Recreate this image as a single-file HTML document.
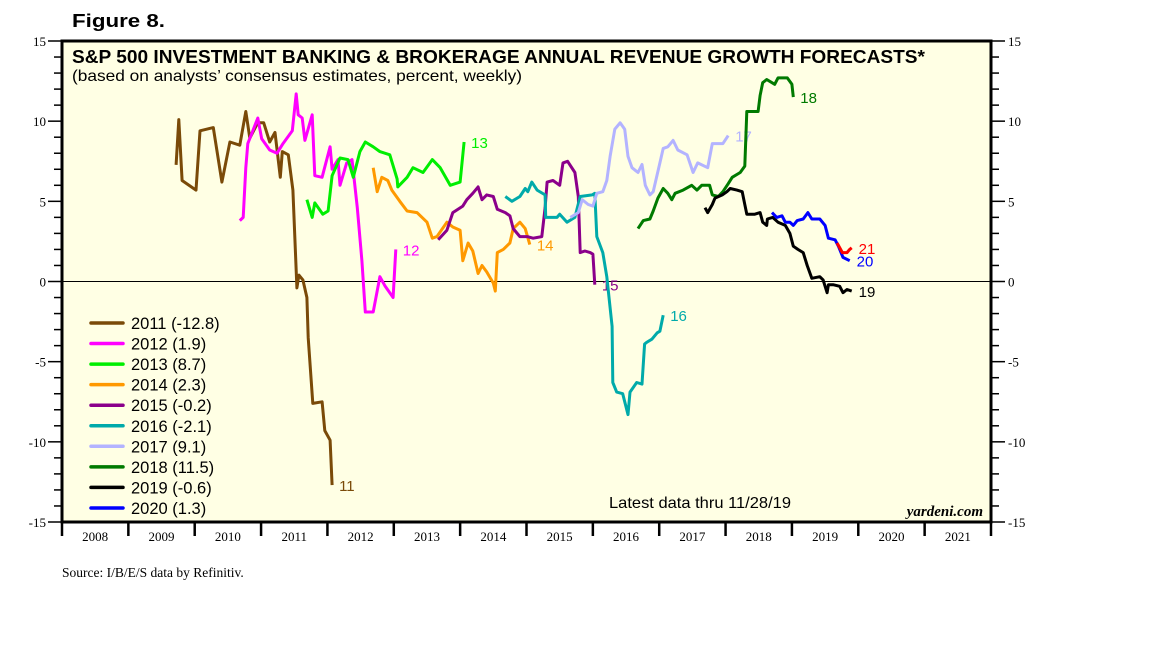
<!DOCTYPE html>
<html><head><meta charset="utf-8">
<style>
html,body{margin:0;padding:0;background:#fff;width:1152px;height:648px;overflow:hidden}
svg{display:block}
text{font-family:"Liberation Sans",Arial,sans-serif}
.serif{font-family:"Liberation Serif","Times New Roman",serif}
</style></head>
<body>
<svg id="chart" width="1152" height="648" viewBox="0 0 1152 648">
<text x="72" y="27" font-size="18" font-weight="bold" textLength="93" lengthAdjust="spacingAndGlyphs">Figure 8.</text>
<rect x="62" y="41" width="929" height="481" fill="#ffffe4"/>
<g id="axes"></g>
<g id="series"></g>
<rect x="62" y="41" width="929" height="481" fill="none" stroke="#000" stroke-width="3"/>
<text x="72" y="63" font-size="18" font-weight="bold" textLength="853" lengthAdjust="spacingAndGlyphs">S&amp;P 500 INVESTMENT BANKING &amp; BROKERAGE ANNUAL REVENUE GROWTH FORECASTS*</text>
<text x="72" y="81" font-size="16" textLength="450" lengthAdjust="spacingAndGlyphs">(based on analysts’ consensus estimates, percent, weekly)</text>
<g id="legend"></g>
<text x="609" y="508" font-size="16" textLength="182" lengthAdjust="spacingAndGlyphs">Latest data thru  11/28/19</text>
<text x="983" y="516" font-size="15" font-weight="bold" font-style="italic" text-anchor="end" class="serif">yardeni.com</text>
<text x="62" y="577" font-size="13.5" class="serif">Source: I/B/E/S data by Refinitiv.</text>
</svg>
<script>
const yearTicks=[2008,2009,2010,2011,2012,2013,2014,2015,2016,2017,2018,2019,2020,2021];
const yTickLabels=[15,10,5,0,-5,-10,-15];
const seriesNames=["2011","2012","2013","2014","2015","2016","2017","2018","2019","2020","2021"];
const seriesLegend=["2011 (-12.8)","2012 (1.9)","2013 (8.7)","2014 (2.3)","2015 (-0.2)","2016 (-2.1)","2017 (9.1)","2018 (11.5)","2019 (-0.6)","2020 (1.3)",null];
const seriesEndLabels=["11","12","13","14","15","16","17","18","19","20","21"];
const seriesColors=["#7a4a08","#ff00ff","#00ee00","#ff9900","#8b008b","#00aaaa","#b3b3ff","#007a00","#000000","#0000ff","#ff0000"];
const s2011=[[2009.72,7.27],[2009.76,10.1],[2009.81,6.3],[2010.02,5.7],[2010.08,9.4],[2010.28,9.6],[2010.41,6.2],[2010.53,8.7],[2010.68,8.5],[2010.77,10.6],[2010.83,8.95],[2010.95,9.9],[2011.04,9.9],[2011.13,8.7],[2011.21,9.3],[2011.29,6.5],[2011.32,8.1],[2011.41,7.9],[2011.48,5.7],[2011.54,-0.4],[2011.57,0.4],[2011.63,0.1],[2011.69,-1.0],[2011.71,-3.5],[2011.78,-7.6],[2011.92,-7.5],[2011.96,-9.3],[2012.04,-9.9],[2012.07,-12.7]];
const s2012=[[2010.68,3.8],[2010.73,4.0],[2010.77,7.1],[2010.80,8.6],[2010.95,10.2],[2011.01,8.9],[2011.13,8.2],[2011.24,8.0],[2011.33,8.6],[2011.47,9.4],[2011.53,11.7],[2011.56,10.4],[2011.62,10.2],[2011.66,8.8],[2011.77,10.4],[2011.81,6.6],[2011.92,6.5],[2012.04,8.4],[2012.07,7.0],[2012.16,7.6],[2012.19,6.0],[2012.29,7.4],[2012.37,7.6],[2012.45,4.6],[2012.52,1.3],[2012.57,-1.9],[2012.69,-1.9],[2012.79,0.3],[2012.87,-0.3],[2012.99,-1.0],[2013.03,2.0]];
const s2013=[[2011.69,5.1],[2011.77,4.0],[2011.81,4.9],[2011.93,4.2],[2012.01,4.4],[2012.07,6.6],[2012.19,7.7],[2012.31,7.6],[2012.39,6.5],[2012.49,8.1],[2012.57,8.7],[2012.69,8.4],[2012.79,8.1],[2012.94,7.9],[2013.05,6.4],[2013.06,5.9],[2013.20,6.5],[2013.29,7.1],[2013.44,6.8],[2013.58,7.6],[2013.70,7.1],[2013.85,6.0],[2014.00,6.2],[2014.06,8.7]];
const s2014=[[2012.69,7.1],[2012.75,5.6],[2012.82,6.5],[2012.91,6.3],[2012.97,5.7],[2013.09,5.0],[2013.20,4.4],[2013.35,4.3],[2013.50,3.7],[2013.58,2.7],[2013.65,2.8],[2013.80,3.7],[2013.89,3.4],[2014.00,3.2],[2014.04,1.3],[2014.12,2.4],[2014.19,1.9],[2014.27,0.5],[2014.33,1.0],[2014.40,0.6],[2014.50,-0.1],[2014.53,-0.6],[2014.56,1.8],[2014.65,2.0],[2014.75,2.4],[2014.80,3.3],[2014.90,3.7],[2014.98,3.3],[2015.05,2.3]];
const s2015=[[2013.67,2.6],[2013.80,3.2],[2013.89,4.3],[2014.04,4.7],[2014.10,5.1],[2014.19,5.5],[2014.27,5.9],[2014.33,5.1],[2014.40,5.4],[2014.50,5.3],[2014.56,4.5],[2014.68,4.3],[2014.75,4.1],[2014.80,3.3],[2014.90,2.8],[2015.01,2.8],[2015.10,2.7],[2015.23,2.8],[2015.28,4.6],[2015.31,6.2],[2015.40,6.3],[2015.50,6.0],[2015.55,7.4],[2015.62,7.5],[2015.73,6.8],[2015.78,5.3],[2015.81,1.8],[2015.88,1.9],[2015.96,1.8],[2016.00,1.7],[2016.03,-0.2]];
const s2016=[[2014.68,5.3],[2014.78,5.0],[2014.90,5.3],[2014.98,5.8],[2015.02,5.6],[2015.08,6.2],[2015.16,5.7],[2015.28,5.4],[2015.29,4.0],[2015.46,4.0],[2015.50,4.2],[2015.61,3.7],[2015.73,4.0],[2015.81,5.3],[2015.99,5.4],[2016.03,5.5],[2016.06,2.8],[2016.15,1.8],[2016.21,0.3],[2016.29,-2.8],[2016.30,-6.3],[2016.36,-6.9],[2016.45,-7.0],[2016.53,-8.3],[2016.56,-6.9],[2016.66,-6.3],[2016.74,-6.4],[2016.78,-3.9],[2016.81,-3.8],[2016.89,-3.6],[2016.97,-3.2],[2017.01,-3.1],[2017.06,-2.1]];
const s2017=[[2015.66,4.0],[2015.78,4.3],[2015.84,5.1],[2015.93,4.8],[2016.00,4.7],[2016.06,5.5],[2016.15,5.6],[2016.21,6.3],[2016.26,7.8],[2016.33,9.5],[2016.41,9.9],[2016.48,9.5],[2016.53,7.8],[2016.59,7.1],[2016.68,6.8],[2016.74,7.3],[2016.79,6.0],[2016.86,5.4],[2016.91,5.6],[2017.01,7.4],[2017.06,8.3],[2017.13,8.4],[2017.21,8.8],[2017.28,8.2],[2017.42,7.9],[2017.51,6.8],[2017.58,7.4],[2017.73,7.1],[2017.80,8.6],[2017.87,8.6],[2017.96,8.6],[2018.04,9.1]];
const s2018=[[2016.68,3.3],[2016.76,3.8],[2016.86,3.9],[2016.91,4.4],[2016.98,5.2],[2017.06,5.8],[2017.13,5.5],[2017.19,5.1],[2017.24,5.5],[2017.36,5.7],[2017.49,6.0],[2017.57,5.7],[2017.64,6.0],[2017.76,6.0],[2017.80,5.4],[2017.89,5.3],[2017.96,5.6],[2018.04,6.1],[2018.10,6.5],[2018.22,6.8],[2018.29,7.2],[2018.32,10.6],[2018.41,10.6],[2018.49,10.6],[2018.52,11.6],[2018.56,12.4],[2018.62,12.6],[2018.74,12.3],[2018.79,12.7],[2018.93,12.7],[2019.00,12.3],[2019.02,11.5]];
const s2019=[[2017.69,4.6],[2017.73,4.3],[2017.80,4.8],[2017.84,5.2],[2017.95,5.4],[2018.02,5.6],[2018.07,5.8],[2018.17,5.7],[2018.25,5.6],[2018.29,4.8],[2018.32,4.2],[2018.44,4.2],[2018.52,4.3],[2018.56,3.7],[2018.62,3.5],[2018.63,3.9],[2018.71,4.0],[2018.79,3.7],[2018.90,3.5],[2018.97,3.0],[2019.02,2.2],[2019.09,2.0],[2019.17,1.8],[2019.23,1.0],[2019.30,0.2],[2019.42,0.3],[2019.47,0.1],[2019.53,-0.7],[2019.55,-0.2],[2019.62,-0.2],[2019.72,-0.3],[2019.77,-0.7],[2019.83,-0.5],[2019.90,-0.6]];
const s2020=[[2018.70,4.3],[2018.77,4.0],[2018.85,4.1],[2018.90,3.7],[2018.97,3.7],[2019.02,3.5],[2019.08,3.8],[2019.17,3.9],[2019.24,4.3],[2019.30,3.9],[2019.42,3.9],[2019.50,3.5],[2019.55,2.7],[2019.65,2.6],[2019.70,2.2],[2019.77,1.5],[2019.87,1.3]];
const s2021=[[2019.68,2.4],[2019.76,1.8],[2019.83,1.8],[2019.87,2.0],[2019.90,2.1]];
const allSeries=[s2011,s2012,s2013,s2014,s2015,s2016,s2017,s2018,s2019,s2020,s2021];

const NS="http://www.w3.org/2000/svg";
const L=62,R=991,T=41,B=522,X0=2008,X1=2022,YMIN=-15,YMAX=15;
function xs(t){return L+(t-X0)/(X1-X0)*(R-L);}
function ys(v){return B-(v-YMIN)/(YMAX-YMIN)*(B-T);}
function mk(tag,attrs,parent){const e=document.createElementNS(NS,tag);for(const k in attrs)e.setAttribute(k,attrs[k]);parent.appendChild(e);return e;}
const axes=document.getElementById('axes');
for(let v=YMIN;v<=YMAX;v++){
  const y=ys(v),major=v%5===0;
  const tl=mk('line',{x1:major?48:54,x2:L,y1:y,y2:y,stroke:'#000','stroke-width':1.5},axes);
  
  
  const tr=mk('line',{x1:R,x2:major?1005:999,y1:y,y2:y,stroke:'#000','stroke-width':1.5},axes);
  
  
}
yTickLabels.forEach(v=>{
  const a=mk('text',{x:46,y:ys(v)+5,'font-size':13,'text-anchor':'end',class:'serif'},axes);a.textContent=v;
  
  
  const b=mk('text',{x:1008,y:ys(v)+5,'font-size':13,class:'serif'},axes);b.textContent=v;
  
  
});
const z=mk('line',{x1:L,x2:R,y1:ys(0),y2:ys(0),stroke:'#000','stroke-width':1},axes);


for(let yr=X0;yr<=X1;yr++){
  const t=mk('line',{x1:xs(yr),x2:xs(yr),y1:B,y2:B+14,stroke:'#000','stroke-width':2.5},axes);
  
  
}
yearTicks.forEach(yr=>{
  const t=mk('text',{x:xs(yr+0.5),y:541,'font-size':13,'text-anchor':'middle',class:'serif'},axes);t.textContent=yr;
  
  
});
const sg=document.getElementById('series');
allSeries.forEach((s,i)=>{
  const d=s.map((p,j)=>(j?'L':'M')+xs(p[0]).toFixed(1)+','+ys(p[1]).toFixed(1)).join(' ');
  const p=mk('path',{d:d,fill:'none',stroke:seriesColors[i],'stroke-width':3,'stroke-linejoin':'round'},sg);
  
  
  const last=s[s.length-1];
  const t=mk('text',{x:xs(last[0])+7,y:ys(last[1])+6,'font-size':15,fill:seriesColors[i]},sg);t.textContent=seriesEndLabels[i];
  
  
});
const lg=document.getElementById('legend');
let row=0;
seriesLegend.forEach((lab,i)=>{
  if(!lab)return;
  const y=323+row*20.55;row++;
  const g=mk('g',{},lg);
  
  
  mk('line',{x1:91,x2:123,y1:y,y2:y,stroke:seriesColors[i],'stroke-width':3.5,'stroke-linecap':'round'},g);
  const t=mk('text',{x:131,y:y+6,'font-size':16.5},g);t.textContent=lab;
});
</script>
</body></html>
